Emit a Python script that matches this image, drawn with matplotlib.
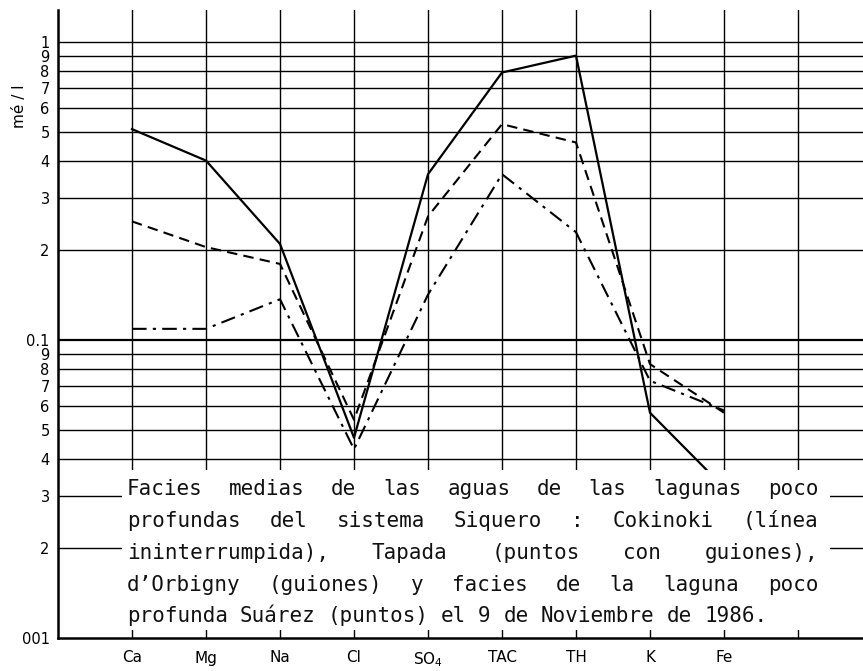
import matplotlib
matplotlib.use("Agg")
import matplotlib.pyplot as plt
from matplotlib.patches import Rectangle
from matplotlib.ticker import NullLocator

# ions along the x axis
ions = ['Ca', 'Mg', 'Na', 'Cl', 'SO$_4$', 'TAC', 'TH', 'K', 'Fe']

# concentrations (mé/l)
cokinoki = [0.51, 0.40, 0.21, 0.047, 0.36, 0.79, 0.90, 0.057, 0.032]
tapada = [0.109, 0.109, 0.137, 0.043, 0.142, 0.36, 0.23, 0.073, 0.058]
orbigny = [0.25, 0.205, 0.18, 0.054, 0.26, 0.53, 0.46, 0.083, 0.057]

# log grid and its labels
ytick_vals = [1, 0.9, 0.8, 0.7, 0.6, 0.5, 0.4, 0.3, 0.2, 0.1,
              0.09, 0.08, 0.07, 0.06, 0.05, 0.04, 0.03, 0.02, 0.01]
ytick_labels = ['1', '9', '8', '7', '6', '5', '4', '3', '2', '0.1',
                '9', '8', '7', '6', '5', '4', '3', '2', '001']

caption = [
    "Facies medias de las aguas de las lagunas poco",
    "profundas del sistema Siquero : Cokinoki (línea",
    "ininterrumpida), Tapada (puntos con guiones),",
    "d’Orbigny (guiones) y facies de la laguna poco",
    "profunda Suárez (puntos) el 9 de Noviembre de 1986.",
]

W, H = 863, 671
fig = plt.figure(figsize=(W / 100, H / 100), dpi=100)
fig.patch.set_facecolor('white')


def fx(x):
    return x / W


def fy(y):
    return 1 - y / H


ax = fig.add_axes([fx(58), fy(638), (863 - 58) / W, (638 - 10) / H])
ax.set_yscale('log')
ax.set_ylim(0.01, 10 ** (32 / 298))
ax.set_xlim(-1, (863 - 132) / 74)

# grid
for v in ytick_vals[:-1]:
    ax.axhline(v, color='black', lw=1.6 if v == 0.1 else 1.0, zorder=1)
for i in range(len(ions) + 1):
    ax.axvline(i, color='black', lw=1.0, zorder=1)

x = list(range(len(ions)))
ax.plot(x, cokinoki, color='black', lw=1.6, zorder=3)
ax.plot(x, orbigny, color='black', lw=1.5, ls=(0, (5, 3)), zorder=3)
ax.plot(x, tapada, color='black', lw=1.5, ls=(0, (7, 3, 1.5, 3)), zorder=3)

ax.set_xticks(x)
ax.set_xticklabels(ions, fontsize=11)
ax.set_yticks(ytick_vals)
ax.set_yticklabels(ytick_labels, fontsize=10.5)
ax.yaxis.set_minor_locator(NullLocator())
ax.tick_params(axis='x', length=0, pad=9)
ax.tick_params(axis='y', length=0, pad=6)

for s in ['top', 'right']:
    ax.spines[s].set_visible(False)
for s in ['left', 'bottom']:
    ax.spines[s].set_linewidth(1.8)

fig.text(fx(19), fy(106), 'mé / l', rotation=90, ha='center', va='center', fontsize=11)

# white block hiding the grid behind the caption
fig.add_artist(Rectangle((fx(122), fy(630)), fx(830 - 122), (630 - 470) / H,
                         transform=fig.transFigure, facecolor='white',
                         edgecolor='none', zorder=4))

# justified caption, monospaced
fs = 15.0
cw = 0.6021 * fs * 100 / 72
left, right = 127, 818
baselines = [495, 527, 559, 591, 622]
for k, line in enumerate(caption):
    words = line.split()
    if k == len(caption) - 1:
        gap = cw
    else:
        nchar = sum(len(w) for w in words)
        gap = (right - left - nchar * cw) / (len(words) - 1)
    xpos = left
    for w in words:
        fig.text(fx(xpos), fy(baselines[k]), w, family='DejaVu Sans Mono',
                 fontsize=fs, color='#111111', ha='left', va='baseline', zorder=5)
        xpos += len(w) * cw + gap

fig.savefig('out.png', dpi=100)
